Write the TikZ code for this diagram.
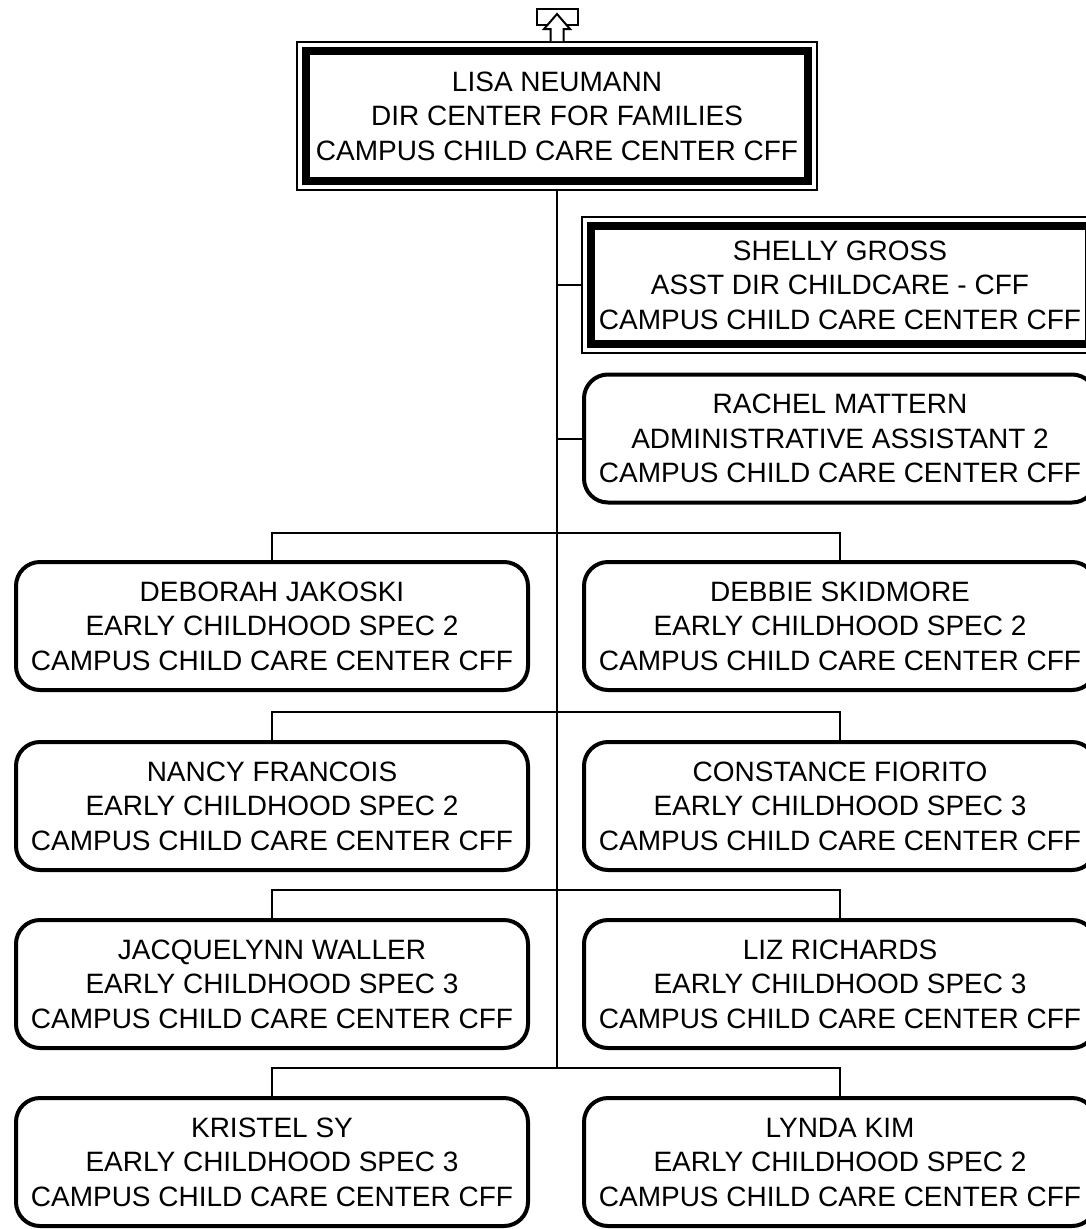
\documentclass[tikz,border=0pt]{standalone}
\usepackage{fontspec}
\setmainfont{Liberation Sans}
\begin{document}
\begin{tikzpicture}[x=1pt,y=-1pt,
  txt/.style={align=center, inner sep=0pt, font=\fontsize{28}{34.5}\selectfont},
  box/.style={txt, draw, line width=4pt, rounded corners=24pt, minimum width=512pt, minimum height=128pt},
  thickframe/.style={txt, draw, line width=8pt},
  thinframe/.style={draw, line width=2pt, inner sep=0pt},
  conn/.style={line width=2pt}]
\useasboundingbox (0,0) rectangle (1085,1229);
% top manager
\node[thinframe, minimum width=520pt, minimum height=148pt] (lisaout) at (557,116) {};
\node[thickframe, minimum width=502pt, minimum height=130pt] (lisa) at (557,116)
  {LISA NEUMANN\\DIR CENTER FOR FAMILIES\\CAMPUS CHILD CARE CENTER CFF};
% icon
\node[thinframe, minimum width=41pt, minimum height=16pt] (icon) at (557,17) {};
\draw[conn, fill=white] (lisaout.north) ++(-6.5,0) -- ++(0,-12) -- ++(-6.5,0) -- ++(13,-15) -- ++(13,15) -- ++(-6.5,0) -- ++(0,12);
% assistant
\node[thinframe, minimum width=516pt, minimum height=136pt] (shellyout) at (840,285) {};
\node[thickframe, minimum width=498pt, minimum height=118pt] (shelly) at (840,285)
  {SHELLY GROSS\\ASST DIR CHILDCARE - CFF\\CAMPUS CHILD CARE CENTER CFF};
\node[box] (rachel) at (840,438.5) {RACHEL MATTERN\\ADMINISTRATIVE ASSISTANT 2\\CAMPUS CHILD CARE CENTER CFF};
% rows
\node[box] (l1) at (272,626) {DEBORAH JAKOSKI\\EARLY CHILDHOOD SPEC 2\\CAMPUS CHILD CARE CENTER CFF};
\node[box] (r1) at (840,626) {DEBBIE SKIDMORE\\EARLY CHILDHOOD SPEC 2\\CAMPUS CHILD CARE CENTER CFF};
\node[box] (l2) at (272,806) {NANCY FRANCOIS\\EARLY CHILDHOOD SPEC 2\\CAMPUS CHILD CARE CENTER CFF};
\node[box] (r2) at (840,806) {CONSTANCE FIORITO\\EARLY CHILDHOOD SPEC 3\\CAMPUS CHILD CARE CENTER CFF};
\node[box] (l3) at (272,984) {JACQUELYNN WALLER\\EARLY CHILDHOOD SPEC 3\\CAMPUS CHILD CARE CENTER CFF};
\node[box] (r3) at (840,984) {LIZ RICHARDS\\EARLY CHILDHOOD SPEC 3\\CAMPUS CHILD CARE CENTER CFF};
\node[box] (l4) at (272,1162) {KRISTEL SY\\EARLY CHILDHOOD SPEC 3\\CAMPUS CHILD CARE CENTER CFF};
\node[box] (r4) at (840,1162) {LYNDA KIM\\EARLY CHILDHOOD SPEC 2\\CAMPUS CHILD CARE CENTER CFF};
% connectors
\coordinate (tend) at (557,1068);
\draw[conn] (lisaout.south) -- (tend);
\draw[conn] (lisaout.south |- shellyout.west) -- (shellyout.west);
\draw[conn] (lisaout.south |- rachel.west) -- (rachel.west);
\draw[conn] (l1.north) -- ++(0,-27) -| (r1.north);
\draw[conn] (l2.north) -- ++(0,-28) -| (r2.north);
\draw[conn] (l3.north) -- ++(0,-28) -| (r3.north);
\draw[conn] (l4.north) -- ++(0,-28) -| (r4.north);
\end{tikzpicture}
\end{document}
